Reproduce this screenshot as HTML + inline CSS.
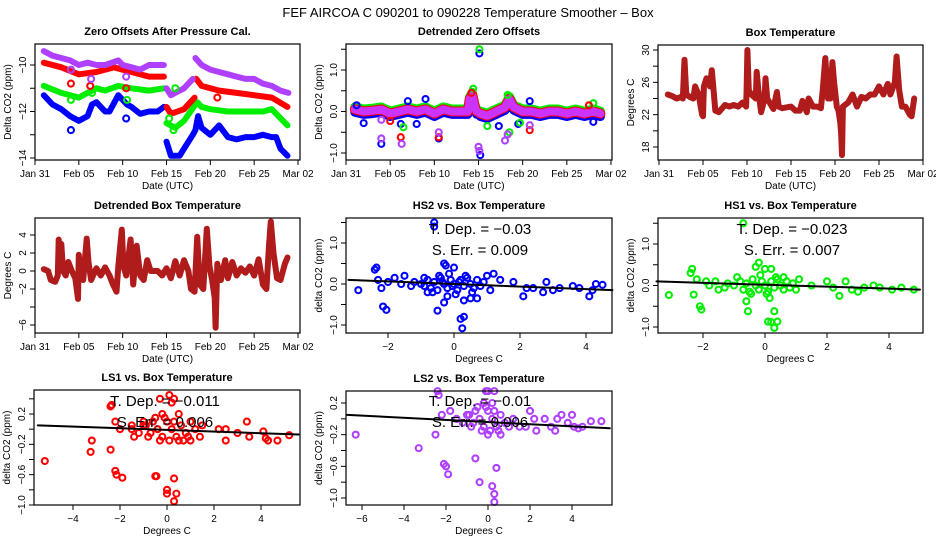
<!DOCTYPE html>
<html><head><meta charset="utf-8"><style>
body{margin:0;background:#fff}
svg{display:block;font-family:"Liberation Sans",sans-serif}
</style></head><body>
<svg id="c" width="936" height="540" viewBox="0 0 936 540">
<text x="468" y="17" text-anchor="middle" font-size="13">FEF   AIRCOA C   090201 to 090228   Temperature Smoother – Box</text>
</svg>
<script>
// ---------- Data ----------
const dateTicks=[0,5,10,15,20,25,30];
const dateTickLabels=["Jan 31","Feb 05","Feb 10","Feb 15","Feb 20","Feb 25","Mar 02"];
// Panel 1: zero offsets [day, ppm]
const p1Purple=[[1,-9.4],[2,-9.6],[3,-9.7],[4,-9.8],[5,-10.0],[6,-9.9],[7,-10.0],[8,-10.0],[9.5,-9.8],[10,-10.0],[11,-10.1],[12,-10.2],[13,-10.0],[14.7,-10.0],null,[15,-11.0],[15.5,-11.3],[16,-11.2],[17,-11.0],[18,-10.6],null,[18.3,-9.7],[19,-10.0],[20,-10.2],[21,-10.3],[22,-10.4],[23,-10.5],[24,-10.6],[25,-10.6],[26,-10.8],[27,-10.9],[28,-11.1],[28.9,-11.2]];
const p1Red=[[1,-9.9],[3,-10.1],[5,-10.4],[7,-10.3],[9,-10.1],[11,-10.3],[13,-10.5],[14.7,-10.5],null,[15,-11.8],[15.5,-12.1],[17,-11.9],[18.2,-11.4],null,[18.4,-10.6],[19,-10.9],[21,-11.1],[23,-11.2],[25,-11.3],[27,-11.4],[28.8,-11.8]];
const p1Green=[[1,-10.9],[3,-11.2],[5,-11.4],[6,-11.2],[7,-11.0],[8,-11.1],[9.5,-10.9],[11,-11.0],[13,-11.1],[14.7,-11.0],null,[15,-12.5],[16,-12.7],[17,-12.4],[18.3,-11.7],[18.5,-11.6],[19,-11.8],[20,-11.9],[22,-12.0],[24,-12.0],[26,-12.0],[27,-11.9],[28.8,-12.6]];
const p1Blue=[[1,-11.3],[2,-11.7],[3,-11.9],[4,-12.2],[5,-12.4],[6,-12.2],[6.5,-11.7],[7,-11.6],[8,-12.0],[8.5,-12.0],[9.5,-11.3],[10.5,-11.7],[11,-11.8],[12,-12.1],[13,-12.0],[14,-12.0],[14.7,-11.8],null,[15,-13.3],[15.5,-13.9],[16.5,-13.9],[17,-13.6],[18,-13.0],[18.3,-12.8],[18.6,-12.2],[19,-12.7],[20,-13.0],[21,-12.6],[22,-13.1],[23,-13.2],[24,-13.1],[25,-13.1],[26,-13.0],[27,-13.1],[27.5,-13.1],[28,-13.6],[28.8,-13.9]];
const p1OutBlue=[[4.1,-12.8],[10.4,-12.3]];
const p1OutGreen=[[4.1,-11.5],[6.5,-11.2],[10.5,-11.5],[15.3,-12.3],[15.8,-12.8],[16,-11.0]];
const p1OutRed=[[4.1,-10.8],[6.3,-10.9],[10.4,-11.0],[20.8,-11.4]];
const p1OutPurple=[[4.1,-10.2],[6.4,-10.6],[10.4,-10.5]];
// Panel 2: detrended zero offsets
const p2Band=[[1,0.05],[2,0],[3,0.02],[4,0.05],[5,-0.05],[6,0],[7,0.05],[8,0],[9,0.05],[10,-0.05],[11,0.05],[12,0],[13,0],[13.8,0],[14,0.3],[14.3,0.4],[14.6,0.1],[14.8,0],null,[15.2,-0.05],[16,-0.1],[17,0],[18,0.1],[18.5,0.3],[19,0.1],[20,0],[21,0],[22,-0.05],[23,0],[24,0],[25,-0.05],[26,0],[27,-0.05],[28,0],[28.8,-0.05]];
const p2OutBlue=[[4,-0.78],[6.2,-0.3],[10.5,-0.65],[15.2,-1.05],[15.1,1.4],[17.3,-0.35],[19.5,-0.3],[8,-0.3],[9,0.3],[7,0.25],[1.2,0.15],[2,-0.28],[28,-0.25],[20.8,0.25]];
const p2OutGreen=[[15.1,1.5],[6.5,-0.38],[16,-0.35],[19.7,-0.27],[18.5,-0.5],[14.4,0.55],[28,0.2],[18.3,0.4]];
const p2OutRed=[[6.2,-0.62],[10.5,-0.62],[20.8,-0.45],[5,-0.23],[14.2,0.45],[27.5,0.15]];
const p2OutPurple=[[4,-0.65],[4,-0.2],[6.3,-0.78],[10.5,-0.5],[15,-0.85],[15.1,-0.95],[18,-0.7],[18.3,-0.55],[20.8,-0.33]];
// Panel 3: box temperature
const p3Temp=[[1,24.5],[1.5,24.3],[2,24],[2.5,24.2],[2.7,24],[2.9,28.8],[3.1,24.5],[3.5,24.2],[3.9,24],[4.1,25.5],[4.5,24.5],[4.9,22],[5,21.8],[5.1,25.5],[5.4,26.5],[5.8,25.5],[6,27.5],[6.2,25],[6.4,22.5],[6.8,22.3],[7.5,23.2],[8,23],[8.5,23.2],[9,23],[9.5,23.5],[9.9,23],[9.95,25],[10.05,30],[10.2,25],[10.5,24.5],[11,24],[11.1,27.3],[11.3,25],[11.6,22.3],[12,24],[12.1,26.5],[12.3,24],[13,22.7],[13.4,24.8],[13.6,23],[14,22.8],[15,23],[15.5,22.5],[16,22.5],[16.3,23.7],[16.8,22.3],[17,24],[17.5,23],[18,23],[18.4,22.8],[18.6,25],[18.9,29],[19.2,24],[19.5,24],[19.7,28.5],[19.9,26],[20.2,23],[20.4,22.5],[20.6,21],[20.7,19.5],[20.8,17],[20.9,23],[21.5,23.5],[22,24.5],[22.5,23],[23,24.2],[23.5,24],[24,24.5],[24.5,24.5],[25,25.5],[25.5,24.5],[26,25.8],[26.3,24.5],[26.8,26],[27,29.2],[27.3,25],[27.6,23],[28,23],[28.5,22],[28.7,21.8],[29,24]];
// Panel 4: detrended box temperature
const p4Temp=[[1,0.2],[1.5,0],[1.8,-1],[2.3,-1.2],[2.6,-0.5],[2.7,3.5],[2.9,1],[3,3],[3.2,0],[3.5,-0.5],[3.8,1],[4.2,0],[4.6,-0.8],[4.9,-3.1],[5.0,1.8],[5.2,-0.5],[5.5,-1],[5.9,3.6],[6.1,1],[6.4,-1],[7,0.3],[7.5,-0.5],[8,0.4],[8.5,-0.5],[8.9,-1.5],[9.3,-2.3],[9.5,0.5],[9.9,4.6],[10.1,0.5],[10.4,-0.5],[10.9,3.5],[11.2,-1.5],[11.6,2.8],[12,-0.5],[12.4,-1],[12.8,1.2],[13.2,0],[14,0],[14.5,-0.5],[15,0.3],[15.5,-0.8],[16,1.1],[16.5,-0.5],[17,1.2],[17.5,0],[17.8,-2],[18.2,-2.3],[18.5,3.8],[18.8,-1.5],[19.2,-2],[19.6,4.7],[19.9,0.5],[20.2,-1],[20.5,-3],[20.6,-6.3],[20.8,0.8],[21.2,-1],[21.7,1.2],[22,-0.8],[22.5,1],[23,-0.5],[23.5,0.3],[24,-0.2],[24.5,0.5],[25,-0.5],[25.5,1.3],[26,-1.5],[26.4,-2],[26.7,3],[26.9,5.5],[27.2,2],[27.6,-0.8],[28,-1],[28.5,0.8],[28.8,1.5]];
// Scatter panels [degC, ppm]
const hs2Pts=[[-2.9,-0.15],[-2.4,0.35],[-2.35,0.4],[-2.3,0.1],[-2.2,-0.1],[-2.15,-0.55],[-2.05,-0.63],[-1.8,0.15],[-1.5,0.2],[-1.2,0.05],[-0.9,0.15],[-0.8,-0.2],[-0.6,1.5],[-0.6,1.4],[-0.5,-0.65],[-0.3,0.5],[-0.25,0.45],[-0.3,-0.45],[-0.2,-0.3],[0,0.4],[0.2,-0.85],[0.3,-0.8],[0.25,-1.08],[0.3,-0.4],[0.5,-0.35],[0.7,-0.35],[1.0,0.2],[1.2,0.25],[1.4,0.1],[1.8,0.05],[2.1,-0.3],[2.2,-0.1],[2.4,-0.1],[2.7,-0.2],[2.8,0.05],[3.0,-0.15],[3.2,-0.1],[3.6,-0.05],[3.8,-0.1],[4.1,-0.3],[4.2,-0.15],[4.3,0],[4.5,-0.02],[-1,0],[-0.8,0.1],[-0.7,-0.1],[-0.6,0.05],[-0.5,-0.15],[-0.4,0.15],[-0.3,0],[-0.2,-0.1],[-0.1,0.1],[0,0],[0.1,-0.15],[0.2,0.1],[0.3,-0.05],[0.4,0.15],[0.5,0],[0.6,-0.1],[0.7,0.1],[0.8,-0.05],[0.9,0.05],[-0.9,-0.05],[-0.15,0.25],[0.05,-0.25],[-0.45,0.2],[0.35,0.2],[-0.65,-0.2],[0.55,-0.2],[1.1,-0.15],[-1.3,-0.05],[-1.6,0],[-2.0,0.05],[-0.35,0.05],[0.15,0.05],[-0.05,-0.05]];
const hs2Fit=[[-3.2,0.1],[4.8,-0.15]];
const hs1Pts=[[-3.1,-0.23],[-2.4,0.3],[-2.35,0.4],[-2.3,-0.22],[-2.2,0.15],[-2.1,-0.5],[-2.05,-0.58],[-1.9,0.1],[-1.6,0.1],[-1.5,-0.1],[-1.2,0.05],[-0.9,0.2],[-0.7,1.5],[-0.6,-0.38],[-0.55,-0.62],[-0.3,0.45],[-0.2,0.55],[0,0.4],[0.2,0.4],[0.1,-0.87],[0.2,-0.88],[0.3,-1.02],[0.3,-0.62],[0.4,-0.87],[0.15,-0.3],[0.6,0.2],[1.1,0.15],[1.5,0],[2.0,0.1],[2.2,-0.05],[2.4,-0.25],[2.6,0.1],[2.8,-0.1],[3.0,-0.15],[3.2,-0.05],[3.5,0],[3.7,-0.05],[4.1,-0.1],[4.4,-0.05],[4.8,-0.1],[-1,0],[-0.8,0.1],[-0.7,-0.1],[-0.6,0.05],[-0.5,-0.15],[-0.4,0.15],[-0.3,0],[-0.2,-0.1],[-0.1,0.1],[0,0],[0.1,-0.15],[0.2,0.1],[0.3,-0.05],[0.4,0.15],[0.5,0],[0.6,-0.1],[0.7,0.1],[0.8,-0.05],[0.9,0.05],[1.0,-0.1],[-1.3,-0.05],[-1.8,0],[-0.15,0.25],[0.05,-0.2],[-0.45,-0.2],[0.35,0.2]];
const hs1Fit=[[-3.5,0.1],[5,-0.1]];
const ls1Pts=[[-5.2,-0.42],[-3.2,-0.15],[-3.25,-0.3],[-2.4,-0.27],[-2.4,0.3],[-2.35,0.32],[-2.2,0.1],[-2.2,-0.55],[-2.15,-0.6],[-1.9,-0.64],[-2,0],[-1.5,0.05],[-1.4,-0.1],[-1,0.1],[-0.5,-0.62],[-0.45,-0.62],[-0.3,0.4],[0.1,0.45],[0.2,0.35],[0.3,0.4],[0,-0.8],[0,-0.85],[0.4,-0.85],[0.3,-0.65],[0.3,-0.95],[0.7,-0.15],[1,-0.15],[1.5,0.05],[2.2,0],[2.5,0],[2.5,-0.15],[3,-0.05],[3.4,0.1],[3.5,-0.1],[4.1,-0.03],[4.2,-0.12],[4.3,-0.15],[4.7,-0.15],[5.2,-0.08],[0.5,0.2],[-0.2,0.2],[-1.5,0],[-1.2,-0.05],[-1,0.05],[-0.8,-0.1],[-0.6,0.1],[-0.4,0],[-0.2,-0.1],[0,0.1],[0.2,0],[0.4,-0.1],[0.6,0.05],[0.8,-0.05],[1.0,0.1],[1.2,0],[-0.7,-0.05],[-0.1,0.15],[0.1,-0.15],[-0.5,0.15],[0.5,-0.15],[-0.3,-0.15],[0.3,0.1],[-0.9,0.05],[0.9,-0.1],[1.4,-0.1]];
const ls1Fit=[[-5.5,0.05],[5.6,-0.07]];
const ls2Pts=[[-6.3,-0.2],[-3.3,-0.37],[-2.5,-0.2],[-2.4,0.35],[-2.35,0.3],[-2.2,0.05],[-2.1,-0.57],[-2.0,-0.6],[-1.9,-0.7],[-1.8,0.1],[-0.6,-0.5],[-0.4,-0.8],[0.2,-0.85],[0.3,-0.95],[0.3,-1.05],[0.4,-0.62],[-0.1,0.35],[0,0.35],[0.3,0.35],[2,0.1],[2.3,-0.15],[2.2,0],[2.7,0],[3,-0.1],[3.2,-0.15],[3.3,0],[3.5,0.05],[3.8,-0.05],[4,0.05],[4.1,-0.1],[4.3,-0.12],[4.5,-0.1],[4.9,-0.03],[5.4,-0.03],[1.5,-0.1],[1.8,-0.1],[-1.5,0],[-1.2,-0.05],[-1,0.05],[-0.8,-0.1],[-0.6,0.1],[-0.4,0],[-0.2,-0.1],[0,0.1],[0.2,0],[0.4,-0.1],[0.6,0.05],[0.8,-0.05],[1.0,-0.1],[1.2,0],[-0.7,-0.05],[-0.1,0.15],[0.1,-0.15],[-0.5,0.15],[0.5,-0.15],[-0.3,-0.15],[0.3,0.1],[-0.9,0.05],[0,-0.2],[0.2,0.2],[-0.2,0.2],[0.6,-0.2]];
const ls2Fit=[[-6.7,0.05],[5.8,-0.12]];

// ---------- Drawing ----------
const NS="http://www.w3.org/2000/svg";
const svg=document.getElementById('c');
function mk(tag,attrs,parent){const e=document.createElementNS(NS,tag);for(const k in attrs)e.setAttribute(k,attrs[k]);(parent||svg).appendChild(e);return e;}
function lin(d0,d1,r0,r1){return v=>r0+(v-d0)*(r1-r0)/(d1-d0);}

function panel(cfg){
  const g=mk('g',{});
  
  
  const X=lin(cfg.xd[0],cfg.xd[1],cfg.xr[0],cfg.xr[1]);
  const Y=lin(cfg.yd[0],cfg.yd[1],cfg.yr[0],cfg.yr[1]);
  const b=cfg.box;
  const t=mk('text',{x:(b[0]+b[2])/2,y:b[1]-9,'text-anchor':'middle','font-size':11,'font-weight':'bold'},g);
  t.textContent=cfg.title;
  
  
  const plot=mk('g',{},g);
  
  
  cfg.draw(plot,X,Y);
  const box=mk('rect',{x:b[0],y:b[1],width:b[2]-b[0],height:b[3]-b[1],fill:'none',stroke:'#000','stroke-width':1.2},g);
  
  
  const xa=mk('g',{},g);
  
  
  cfg.xt.forEach((v,i)=>{
    const x=X(v);
    mk('line',{x1:x,x2:x,y1:b[3],y2:b[3]+5,stroke:'#000'},xa);
    const l=mk('text',{x:x,y:b[3]+17,'text-anchor':'middle','font-size':10},xa);
    l.textContent=cfg.xl[i];
    
    
  });
  const xt=mk('text',{x:(b[0]+b[2])/2,y:b[3]+29,'text-anchor':'middle','font-size':10},g);
  xt.textContent=cfg.xtitle;
  
  
  const ya=mk('g',{},g);
  
  
  cfg.yt.forEach((v,i)=>{
    const y=Y(v);
    mk('line',{x1:b[0]-5,x2:b[0],y1:y,y2:y,stroke:'#000'},ya);
    if(cfg.yl[i]){
      const lx=b[0]-9;
      const l=mk('text',{x:lx,y:y,'text-anchor':'middle','font-size':10,transform:`rotate(-90 ${lx} ${y})`},ya);
      l.textContent=cfg.yl[i];
      
      
    }
  });
  const tx=b[0]-24,ty=(b[1]+b[3])/2;
  const yt=mk('text',{x:tx,y:ty,'text-anchor':'middle','font-size':10,transform:`rotate(-90 ${tx} ${ty})`},g);
  yt.textContent=cfg.ytitle;
  
  
  if(cfg.ann){
    cfg.ann.forEach((s,i)=>{
      const a=mk('text',{x:cfg.annX,y:cfg.annY+i*21,'text-anchor':'middle','font-size':15},g);
      a.textContent=s;
      
      
    });
  }
}
function path(parent,arr,X,Y,color,w,name){
  let d='',pen=false;
  arr.forEach(p=>{if(!p){pen=false;return;}d+=(pen?'L':'M')+X(p[0]).toFixed(1)+' '+Y(p[1]).toFixed(1);pen=true;});
  const e=mk('path',{d:d,fill:'none',stroke:color,'stroke-width':w,'stroke-linejoin':'round','stroke-linecap':'round'},parent);
  
  
}
function pts(parent,arr,X,Y,color,name,r){
  arr.forEach(p=>{
    const c=mk('circle',{cx:X(p[0]),cy:Y(p[1]),r:r||3,fill:'none',stroke:color,'stroke-width':2.1},parent);
    
    
  });
}
const PURPLE='#b040ff',RED='#ff0000',GREEN='#00ee00',BLUE='#0000ff',DRED='#b01c1c';

panel({name:'panel-zero-offsets',title:'Zero Offsets After Pressure Cal.',box:[35,44,300,160],xd:[0,30],xr:[35,298],yd:[-10,-14],yr:[65,158],
  xt:dateTicks,xl:dateTickLabels,yt:[-10,-11,-12,-13,-14],yl:['−10','','−12','','−14'],xtitle:'Date (UTC)',ytitle:'Delta CO2 (ppm)',
  draw:(g,X,Y)=>{path(g,p1Blue,X,Y,BLUE,6,'series-blue');path(g,p1Green,X,Y,GREEN,6,'series-green');path(g,p1Red,X,Y,RED,6,'series-red');path(g,p1Purple,X,Y,PURPLE,6,'series-purple');
    pts(g,p1OutBlue,X,Y,BLUE,'outlier-blue');pts(g,p1OutGreen,X,Y,GREEN,'outlier-green');pts(g,p1OutRed,X,Y,RED,'outlier-red');pts(g,p1OutPurple,X,Y,PURPLE,'outlier-purple');}});

panel({name:'panel-detrended-zero-offsets',title:'Detrended Zero Offsets',box:[346,44,612,160],xd:[0,30],xr:[346,611],yd:[1,-1],yr:[70,153],
  xt:dateTicks,xl:dateTickLabels,yt:[-1,-0.5,0,0.5,1,1.5],yl:['−1.0','','0.0','','1.0',''],xtitle:'Date (UTC)',ytitle:'Delta CO2 (ppm)',
  draw:(g,X,Y)=>{const up=p2Band.map(p=>p&&[p[0],p[1]+0.06]);const dn=p2Band.map(p=>p&&[p[0],p[1]-0.07]);
    path(g,dn,X,Y,BLUE,9,'series-blue');path(g,up,X,Y,GREEN,9,'series-green');path(g,p2Band,X,Y,RED,10,'series-red');path(g,p2Band,X,Y,'#cc33ff',8,'series-purple');
    pts(g,p2OutBlue,X,Y,BLUE,'outlier-blue');pts(g,p2OutGreen,X,Y,GREEN,'outlier-green');pts(g,p2OutRed,X,Y,RED,'outlier-red');pts(g,p2OutPurple,X,Y,PURPLE,'outlier-purple');}});

panel({name:'panel-box-temperature',title:'Box Temperature',box:[658,45,923,160],xd:[0,30],xr:[659,923],yd:[30,18],yr:[50,147],
  xt:dateTicks,xl:dateTickLabels,yt:[18,20,22,24,26,28,30],yl:['18','','22','','26','','30'],xtitle:'Date (UTC)',ytitle:'Degrees C',
  draw:(g,X,Y)=>{path(g,p3Temp,X,Y,DRED,6,'series-box-temp');}});

panel({name:'panel-detrended-box-temperature',title:'Detrended Box Temperature',box:[35,218,300,333],xd:[0,30],xr:[35,298],yd:[4,-6],yr:[235,325],
  xt:dateTicks,xl:dateTickLabels,yt:[-6,-4,-2,0,2,4],yl:['−6','','−2','0','2','4'],xtitle:'Date (UTC)',ytitle:'Degrees C',
  draw:(g,X,Y)=>{path(g,p4Temp,X,Y,DRED,6,'series-detrended-temp');}});

function scatterPanel(name,title,box,xd,xr,yd,yr,xt,xl,yt,yl,data,fit,color,ann,annX,annY){
  panel({name,title,box,xd,xr,yd,yr,xt,xl,yt,yl,xtitle:'Degrees C',ytitle:'delta CO2 (ppm)',ann,annX,annY,
    draw:(g,X,Y)=>{pts(g,data,X,Y,color,'scatter-point');path(g,fit,X,Y,'#000',2,'regression-line');}});
}
scatterPanel('panel-hs2','HS2 vs. Box Temperature',[346,218,612,333],[0,2],[454,520],[1,-1],[243,325],[-2,0,2,4],['−2','0','2','4'],[-1,-0.5,0,0.5,1,1.5],['−1.0','','0.0','','1.0',''],hs2Pts,hs2Fit,BLUE,['T. Dep. =  −0.03','S. Err. =  0.009'],480,234);
scatterPanel('panel-hs1','HS1 vs. Box Temperature',[658,218,923,333],[0,2],[765,827],[1,-1],[244,327],[-2,0,2,4],['−2','0','2','4'],[-1,-0.5,0,0.5,1,1.5],['−1.0','','0.0','','1.0',''],hs1Pts,hs1Fit,GREEN,['T. Dep. =  −0.023','S. Err. =  0.007'],792,234);
scatterPanel('panel-ls1','LS1 vs. Box Temperature',[34,390,300,505],[0,2],[167,214],[0.2,-1.0],[414,505],[-4,-2,0,2,4],['−4','−2','0','2','4'],[-1,-0.8,-0.6,-0.4,-0.2,0,0.2,0.4],['−1.0','','−0.6','','−0.2','','0.2',''],ls1Pts,ls1Fit,RED,['T. Dep. =  −0.011','S. Err. =  0.006'],165,406);
scatterPanel('panel-ls2','LS2 vs. Box Temperature',[346,391,612,505],[0,2],[488,530],[0.2,-1.0],[403,498],[-6,-4,-2,0,2,4],['−6','−4','−2','0','2','4'],[-1,-0.8,-0.6,-0.4,-0.2,0,0.2],['−1.0','','−0.6','','−0.2','','0.2'],ls2Pts,ls2Fit,PURPLE,['T. Dep. =  −0.01','S. Err. =  0.006'],480,406);
</script>
</body></html>
